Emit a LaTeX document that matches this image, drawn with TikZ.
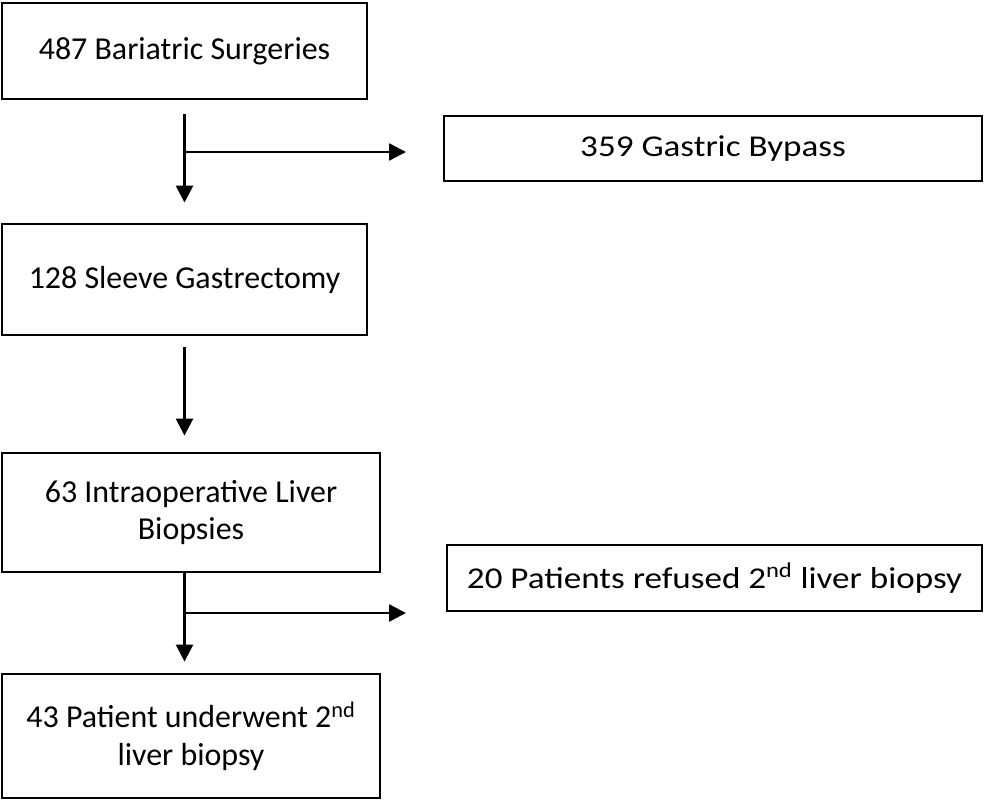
\documentclass[tikz,border=0pt]{standalone}
\usepackage{fontspec}
\setmainfont{Carlito}
\usepackage{tikz}
\usetikzlibrary{arrows.meta}
\tikzstyle{box} = [draw, line width=2pt, align=center, inner sep=0pt, font=\fontsize{22.7}{26.5}\selectfont]
\tikzstyle{sidebox} = [box, font=\fontsize{21.5}{26}\selectfont]
\tikzstyle{arrow} = [line width=1.8pt, -{Triangle[length=12pt,width=12pt]}]
\newcommand{\widetext}[1]{\scalebox{1.16}[1]{#1}}

\begin{document}
\begin{tikzpicture}[x=0.025cm, y=-0.025cm]
            \useasboundingbox (0,0) rectangle (986,800);
            \node[box, minimum width=9.125cm, minimum height=2.4cm] (surg) at (184.5,51) {487 Bariatric Surgeries};
            \node[sidebox, minimum width=13.45cm, minimum height=1.625cm] (bypass) at (713,148.5) {\widetext{359 Gastric Bypass}};
            \node[box, minimum width=9.125cm, minimum height=2.775cm] (sleeve) at (184.5,279.5) {128 Sleeve Gastrectomy};
            \node[box, minimum width=9.45cm, minimum height=2.975cm] (intra) at (191,512.5) {63 Intraoperative Liver\\Biopsies};
            \node[sidebox, minimum width=13.375cm, minimum height=1.65cm] (refused) at (714.5,578) {\widetext{20 Patients refused 2\textsuperscript{nd} liver biopsy}};
            \node[box, minimum width=9.45cm, minimum height=3.1cm] (second) at (191,736) {43 Patient underwent 2\textsuperscript{nd}\\liver biopsy};
            % split points
            \coordinate (split1) at (184.5,152);
            \coordinate (tip1) at (406,152);
            \coordinate (split2) at (184.5,613);
            \coordinate (tip2) at (406,613);
            \draw [arrow, shorten <=0.35cm, shorten >=0.5cm] (surg.south) -- (sleeve.north);
            \draw [arrow] (split1) -- (tip1);
            \draw [arrow, shorten <=0.275cm, shorten >=0.4cm] (sleeve.south) -- (sleeve.south |- intra.north);
            \draw [arrow, shorten >=0.275cm] (sleeve.south |- intra.south) -- (sleeve.south |- second.north);
            \draw [arrow] (split2) -- (tip2);
        \end{tikzpicture}
\end{document}
